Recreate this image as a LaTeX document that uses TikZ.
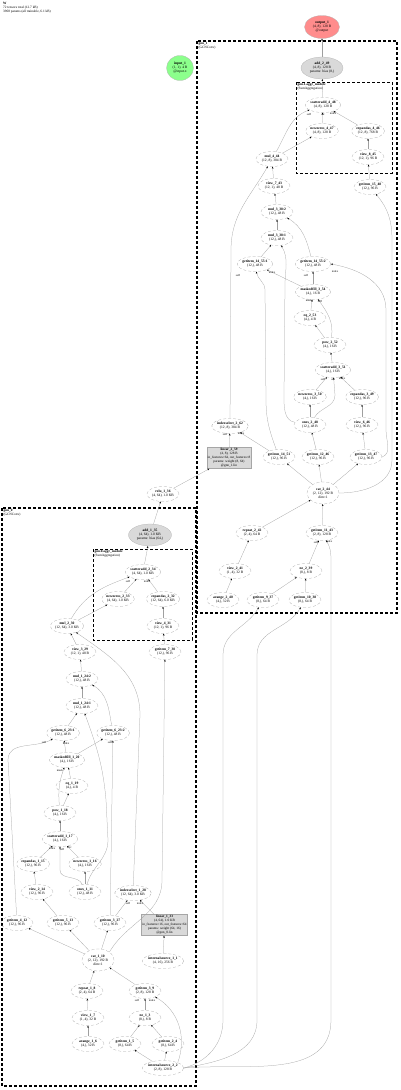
\documentclass[tikz,border=0pt]{standalone}
\usepackage{fontspec}
\setmainfont{Liberation Serif}
\usetikzlibrary{arrows.meta, shapes.geometric, positioning}

\tikzset{
  fn/.style={ellipse, draw=gray!70, densely dashed, line width=0.25pt, align=center,
    inner sep=0pt, minimum width=32pt, minimum height=15pt,
    font=\fontsize{3.6}{4.1}\selectfont},
  pn/.style={fn, fill=gray!30, solid, draw=gray!60},
  ln/.style={rectangle, draw=gray!70, fill=gray!30, align=center, inner sep=1pt,
    font=\fontsize{3.4}{4}\selectfont},
  ed/.style={draw=gray!75, line width=0.25pt, -{Stealth[length=2pt,width=1.6pt,black]}},
  cl/.style={draw=black, line width=1.1pt, densely dashed},
  cli/.style={draw=black, line width=0.6pt, densely dashed},
  cltxt/.style={anchor=north west, align=left, inner sep=0.4pt,
    font=\fontsize{3.4}{3.7}\selectfont},
  el/.style={font=\fontsize{2.9}{3}\selectfont, inner sep=0.2pt},
}
\newcommand{\nm}[1]{\textbf{#1}}

\begin{document}
\begin{tikzpicture}[x=1pt, y=-1pt]
  \useasboundingbox (0,0) rectangle (400,1090);

  % header
  \node[anchor=north west, align=left, inner sep=0pt, font=\fontsize{3.4}{4}\selectfont]
    (hdr) at (3,2) {\nm{W}\\72 tensors total (12.7 kB)\\3968 params (all trainable, 6.1 kB)};

  % inputs and outputs
  \node[fn, solid, fill=green!45, draw=gray!60, minimum width=27pt, minimum height=25pt]
    (in1) at (180,68) {\nm{input\_1}\\(1, 1), 4 B\\@input.x};
  \node[fn, solid, fill=red!45, draw=gray!60, minimum width=35pt, minimum height=23pt]
    (out1) at (322,27) {\nm{output\_1}\\(4, 8), 128 B\\@output};

  % clusters
  \draw[cl] (197,41) rectangle (397,613);
  \node[cltxt] (c1) at (198,42) {\nm{gnn\_1}\\(GCNConv)};
  \draw[cli] (296,82) rectangle (392,173);
  \node[cltxt] (c1a) at (297,83) {\nm{gnn.1.aggr\_module}\\(SumAggregation)};
  \draw[cl] (2,508) rectangle (196,1086);
  \node[cltxt] (c0) at (3,509) {\nm{gnn\_0}\\(GCNConv)};
  \draw[cli] (93,549) rectangle (192,640);
  \node[cltxt] (c0a) at (94,550) {\nm{gnn.0.aggr\_module}\\(SumAggregation)};

  % gnn_1 nodes
  \node[pn, minimum width=42pt, minimum height=22pt] (add249) at (322,68) {\nm{add\_2\_49}\\(4, 8), 128 B\\params: bias (8,)};
  \node[fn] (sa448) at (323,105) {\nm{scatteradd\_4\_48}\\(4, 8), 128 B};
  \node[fn] (nz447) at (322,131) {\nm{newzeros\_4\_47}\\(4, 8), 128 B};
  \node[fn] (ea446) at (368,131) {\nm{expandas\_4\_46}\\(12, 8), 768 B};
  \node[fn] (v845) at (368,157) {\nm{view\_8\_45}\\(12, 1), 96 B};
  \node[fn] (mul444) at (272,159) {\nm{mul\_4\_44}\\(12, 8), 384 B};
  \node[fn] (v743) at (274,186) {\nm{view\_7\_43}\\(12, 1), 48 B};
  \node[fn] (g1548) at (370,187) {\nm{getitem\_15\_48}\\(12,), 96 B};
  \node[fn] (m382) at (277,212) {\nm{mul\_3\_38:2}\\(12,), 48 B};
  \node[fn] (m381) at (277,238) {\nm{mul\_3\_38:1}\\(12,), 48 B};
  \node[fn] (g1455) at (255,264) {\nm{getitem\_14\_55:1}\\(12,), 48 B};
  \node[fn] (g1457) at (313,264) {\nm{getitem\_14\_55:2}\\(12,), 48 B};
  \node[fn] (mf354) at (313,292) {\nm{maskedfill\_3\_54}\\(4,), 16 B};
  \node[fn] (eq253) at (310,318) {\nm{eq\_2\_53}\\(4,), 4 B};
  \node[fn] (pow252) at (330,345) {\nm{pow\_2\_52}\\(4,), 16 B};
  \node[fn] (sa351) at (333,370) {\nm{scatteradd\_3\_51}\\(4,), 16 B};
  \node[fn] (nz350) at (310,397) {\nm{newzeros\_3\_50}\\(4,), 16 B};
  \node[fn] (ea349) at (362,397) {\nm{expandas\_3\_49}\\(12,), 96 B};
  \node[fn] (ones248) at (310,425) {\nm{ones\_2\_48}\\(12,), 48 B};
  \node[fn] (v646) at (362,425) {\nm{view\_6\_46}\\(12,), 96 B};
  \node[fn] (is262) at (230,426) {\nm{indexselect\_2\_62}\\(12, 8), 384 B};
  \node[ln] (ln259) at (229,458) {\nm{linear\_2\_59}\\(4, 8), 128 B\\in\_features=64, out\_features=8\\params: weight (8, 64)\\@gnn\_1.lin};
  \node[fn] (g1451) at (279,457) {\nm{getitem\_14\_51}\\(12,), 96 B};
  \node[fn] (g1246) at (318,457) {\nm{getitem\_12\_46}\\(12,), 96 B};
  \node[fn] (g1347) at (366,457) {\nm{getitem\_13\_47}\\(12,), 96 B};
  \node[fn, minimum height=22pt] (cat244) at (323,493) {\nm{cat\_2\_44}\\(2, 12), 192 B\\dim=1};
  \node[fn] (rep242) at (252,533) {\nm{repeat\_2\_42}\\(2, 4), 64 B};
  \node[fn] (g1143) at (322,533) {\nm{getitem\_11\_43}\\(2, 8), 128 B};
  \node[fn] (v241) at (235,571) {\nm{view\_2\_41}\\(1, 4), 32 B};
  \node[fn] (ne239) at (306,571) {\nm{ne\_2\_39}\\(8,), 8 B};
  \node[fn] (ar240) at (223,600) {\nm{arange\_2\_40}\\(4,), 32 B};
  \node[fn] (g937) at (263,600) {\nm{getitem\_9\_37}\\(8,), 64 B};
  \node[fn] (g1038) at (305,600) {\nm{getitem\_10\_38}\\(8,), 64 B};

  % between the layers
  \node[fn] (relu136) at (163,494) {\nm{relu\_1\_36}\\(4, 64), 1.0 KB};

  % gnn_0 nodes
  \node[pn, minimum width=43pt, minimum height=22pt] (add135) at (150,535) {\nm{add\_1\_35}\\(4, 64), 1.0 KB\\params: bias (64,)};
  \node[fn] (sa234) at (143,572) {\nm{scatteradd\_2\_34}\\(4, 64), 1.0 KB};
  \node[fn] (nz233) at (118,599) {\nm{newzeros\_2\_33}\\(4, 64), 1.0 KB};
  \node[fn] (ea232) at (163,599) {\nm{expandas\_2\_32}\\(12, 64), 6.0 KB};
  \node[fn] (v431) at (163,626) {\nm{view\_4\_31}\\(12, 1), 96 B};
  \node[fn] (mul230) at (67,626) {\nm{mul\_2\_30}\\(12, 64), 3.0 KB};
  \node[fn] (g730) at (165,652) {\nm{getitem\_7\_30}\\(12,), 96 B};
  \node[fn] (v329) at (80,652) {\nm{view\_3\_29}\\(12, 1), 48 B};
  \node[fn] (m242) at (82,679) {\nm{mul\_1\_24:2}\\(12,), 48 B};
  \node[fn] (m241) at (82,706) {\nm{mul\_1\_24:1}\\(12,), 48 B};
  \node[fn] (g623a) at (63,733) {\nm{getitem\_6\_23:1}\\(12,), 48 B};
  \node[fn] (g623b) at (113,733) {\nm{getitem\_6\_23:2}\\(12,), 48 B};
  \node[fn] (mf120) at (67,760) {\nm{maskedfill\_1\_20}\\(4,), 16 B};
  \node[fn] (eq119) at (72,786) {\nm{eq\_1\_19}\\(4,), 4 B};
  \node[fn] (pow118) at (60,813) {\nm{pow\_1\_18}\\(4,), 16 B};
  \node[fn] (sa117) at (60,839) {\nm{scatteradd\_1\_17}\\(4,), 16 B};
  \node[fn] (ea115) at (33,864) {\nm{expandas\_1\_15}\\(12,), 96 B};
  \node[fn] (nz116) at (85,864) {\nm{newzeros\_1\_16}\\(4,), 16 B};
  \node[fn] (v214) at (37,892) {\nm{view\_2\_14}\\(12,), 96 B};
  \node[fn] (ones111) at (85,892) {\nm{ones\_1\_11}\\(12,), 48 B};
  \node[fn] (is128) at (133,893) {\nm{indexselect\_1\_28}\\(12, 64), 3.0 KB};
  \node[fn] (g412) at (17,923) {\nm{getitem\_4\_12}\\(12,), 96 B};
  \node[fn] (g513) at (63,923) {\nm{getitem\_5\_13}\\(12,), 96 B};
  \node[fn] (g327) at (110,923) {\nm{getitem\_3\_27}\\(12,), 96 B};
  \node[ln] (ln133) at (164.5,925) {\nm{linear\_1\_33}\\(4, 64), 1.0 KB\\in\_features=16, out\_features=64\\params: weight (64, 16)\\@gnn\_0.lin};
  \node[fn, minimum height=22pt] (cat110) at (98,960) {\nm{cat\_1\_10}\\(2, 12), 192 B\\dim=1};
  \node[fn] (is11) at (163,961) {\nm{internalsource\_1\_1}\\(4, 16), 256 B};
  \node[fn] (rep18) at (87,991) {\nm{repeat\_1\_8}\\(2, 4), 64 B};
  \node[fn] (g39) at (145,991) {\nm{getitem\_3\_9}\\(2, 8), 128 B};
  \node[fn] (v17) at (88,1018) {\nm{view\_1\_7}\\(1, 4), 32 B};
  \node[fn] (ne13) at (145,1018) {\nm{ne\_1\_3}\\(8,), 8 B};
  \node[fn] (ar16) at (88,1044) {\nm{arange\_1\_6}\\(4,), 32 B};
  \node[fn] (g15) at (125,1044) {\nm{getitem\_1\_5}\\(8,), 64 B};
  \node[fn] (g24) at (168,1044) {\nm{getitem\_2\_4}\\(8,), 64 B};
  \node[fn] (is22) at (163,1068) {\nm{internalsource\_2\_2}\\(2, 8), 128 B};

  % edges gnn_1
  \draw[ed] (add249) -- (out1);
  \draw[ed] (sa448) -- (add249);
  \draw[ed] (nz447) -- (sa448);
  \draw[ed] (ea446) -- (sa448);
  \draw[ed] (mul444) to[out=60,in=200] (sa448);
  \draw[ed] (mul444) -- (nz447);
  \draw[ed] (v845) -- (ea446);
  \draw[ed] (g1548) -- (v845);
  \draw[ed] (v743) -- (mul444);
  \draw[ed] (is262) -- (231,250) to[out=90,in=-120] (mul444);
  \draw[ed] (m382) -- (v743);
  \draw[ed] (m381) -- (m382);
  \draw[ed] (g1457) to[out=105,in=-30] (m382);
  \draw[ed] (g1455) -- (m381);
  \draw[ed] (ones248) to[out=170,in=-90] (284,395) -- (285,285) to[out=90,in=-60] (m381);
  \draw[ed] (mf354) -- (g1455);
  \draw[ed] (mf354) -- (g1457);
  \draw[ed] (g1451) to[out=110,in=-90] (266,400) -- (265,290) to[out=90,in=-80] (g1455);
  \draw[ed] (g1347.east) to[out=20,in=-90] (386,430) -- (386,310) to[out=90,in=-10] (g1457.east);
  \draw[ed] (cat244.east) to[out=0,in=-90] (392,460) -- (392,240) to[out=90,in=-50] (g1548);
  \draw[ed] (ea349) -- (sa351);
  \draw[ed] (nz350) -- (sa351);
  \draw[ed] (ones248) to[out=60,in=-90] (335,395) -- (sa351);
  \draw[ed] (ones248) -- (nz350);
  \draw[ed] (v646) -- (ea349);
  \draw[ed] (g1347) -- (v646);
  \draw[ed] (g1246) -- (ones248);
  \draw[ed] (sa351) -- (pow252);
  \draw[ed] (pow252) -- (eq253);
  \draw[ed] (pow252) to[out=80,in=-55] (mf354);
  \draw[ed] (eq253) -- (mf354);
  \draw[ed] (cat244) -- (g1451);
  \draw[ed] (cat244) -- (g1246);
  \draw[ed] (cat244) -- (g1347);
  \draw[ed] (g1451) -- (is262);
  \draw[ed] (ln259) -- (is262);
  \draw[ed] (relu136) -- (ln259);
  \draw[ed] (rep242) -- (cat244);
  \draw[ed] (g1143) -- (cat244);
  \draw[ed] (v241) -- (rep242);
  \draw[ed] (ar240) -- (v241);
  \draw[ed] (ne239) -- (g1143);
  \draw[ed] (g937) -- (ne239);
  \draw[ed] (g1038) -- (ne239);
  \draw[ed] (is22.east) to[out=15,in=-90] (223,1020) -- (223,655) to[out=90,in=-120] (g937);
  \draw[ed] (is22.east) to[out=10,in=-90] (257,1020) -- (257,655) to[out=90,in=-120] (g1038);
  \draw[ed] (is22.east) to[out=5,in=-90] (331,1020) -- (331,560) to[out=90,in=-60] (g1143);

  % edges gnn_0
  \draw[ed] (add135) -- (relu136);
  \draw[ed] (sa234) -- (add135);
  \draw[ed] (nz233) -- (sa234);
  \draw[ed] (ea232) -- (sa234);
  \draw[ed] (mul230) to[out=60,in=200] (sa234);
  \draw[ed] (mul230) -- (nz233);
  \draw[ed] (v431) -- (ea232);
  \draw[ed] (g730) -- (v431);
  \draw[ed] (v329) -- (mul230);
  \draw[ed] (is128) -- (140,715) to[out=90,in=-35] (mul230);
  \draw[ed] (m242) -- (v329);
  \draw[ed] (m241) -- (m242);
  \draw[ed] (g623b) to[out=100,in=-30] (m242);
  \draw[ed] (g623a) -- (m241);
  \draw[ed] (ones111) to[out=75,in=-90] (108,840) -- (106,800) to[out=95,in=-70] (m241);
  \draw[ed] (mf120) -- (g623a);
  \draw[ed] (mf120) -- (g623b);
  \draw[ed] (g412) -- (8,760) to[out=90,in=-150] (g623a);
  \draw[ed] (g327) -- (g623b);
  \draw[ed] (ea115) -- (sa117);
  \draw[ed] (nz116) -- (sa117);
  \draw[ed] (ones111) to[out=110,in=-90] (60,870) -- (sa117);
  \draw[ed] (ones111) -- (nz116);
  \draw[ed] (v214) -- (ea115);
  \draw[ed] (g513) -- (v214);
  \draw[ed] (sa117) -- (pow118);
  \draw[ed] (pow118) -- (eq119);
  \draw[ed] (pow118) to[out=95,in=-110] (mf120);
  \draw[ed] (eq119) -- (mf120);
  \draw[ed] (cat110) -- (g412);
  \draw[ed] (cat110) -- (g513);
  \draw[ed] (cat110) -- (g327);
  \draw[ed] (cat110.north east) to[out=60,in=-90] (162,880) -- (g730);
  \draw[ed] (g327) -- (is128);
  \draw[ed] (ln133) -- (is128);
  \draw[ed] (is11) -- (ln133);
  \draw[ed] (rep18) -- (cat110);
  \draw[ed] (g39) -- (cat110);
  \draw[ed] (v17) -- (rep18);
  \draw[ed] (ar16) -- (v17);
  \draw[ed] (ne13) -- (g39);
  \draw[ed] (g15) -- (ne13);
  \draw[ed] (g24) -- (ne13);
  \draw[ed] (is22) -- (g15);
  \draw[ed] (is22) -- (g24);
  \draw[ed] (is22.north east) to[out=70,in=-30] (g39);

  % edge labels
  \node[el] (l1) at (309,114) {self};
  \node[el] (l2) at (323,115) {src};
  \node[el] (l3) at (333,114) {index};
  \node[el] (l4) at (238,275) {self};
  \node[el] (l5) at (272,273) {index};
  \node[el] (l6) at (306,275) {self};
  \node[el] (l7) at (335,272) {index};
  \node[el] (l8) at (309,301) {mask};
  \node[el] (l9) at (320,301) {self};
  \node[el] (l10) at (323,379) {self};
  \node[el] (l11) at (333,380) {src};
  \node[el] (l12) at (342,379) {index};
  \node[el] (l13) at (225,434) {self};
  \node[el] (l14) at (241,434) {index};
  \node[el] (l15) at (316,542) {self};
  \node[el] (l16) at (329,542) {index};
  \node[el] (l17) at (128,581) {self};
  \node[el] (l18) at (147,581) {index};
  \node[el] (l19) at (44,742) {self};
  \node[el] (l20) at (66,743) {index};
  \node[el] (l21) at (110,742) {self};
  \node[el] (l22) at (60,770) {mask};
  \node[el] (l23) at (52,848) {index};
  \node[el] (l24) at (62,849) {self};
  \node[el] (l25) at (70,848) {src};
  \node[el] (l26) at (128,903) {self};
  \node[el] (l27) at (140,903) {index};
  \node[el] (l28) at (137,1000) {self};
  \node[el] (l29) at (152,1000) {index};
\end{tikzpicture}
\end{document}
